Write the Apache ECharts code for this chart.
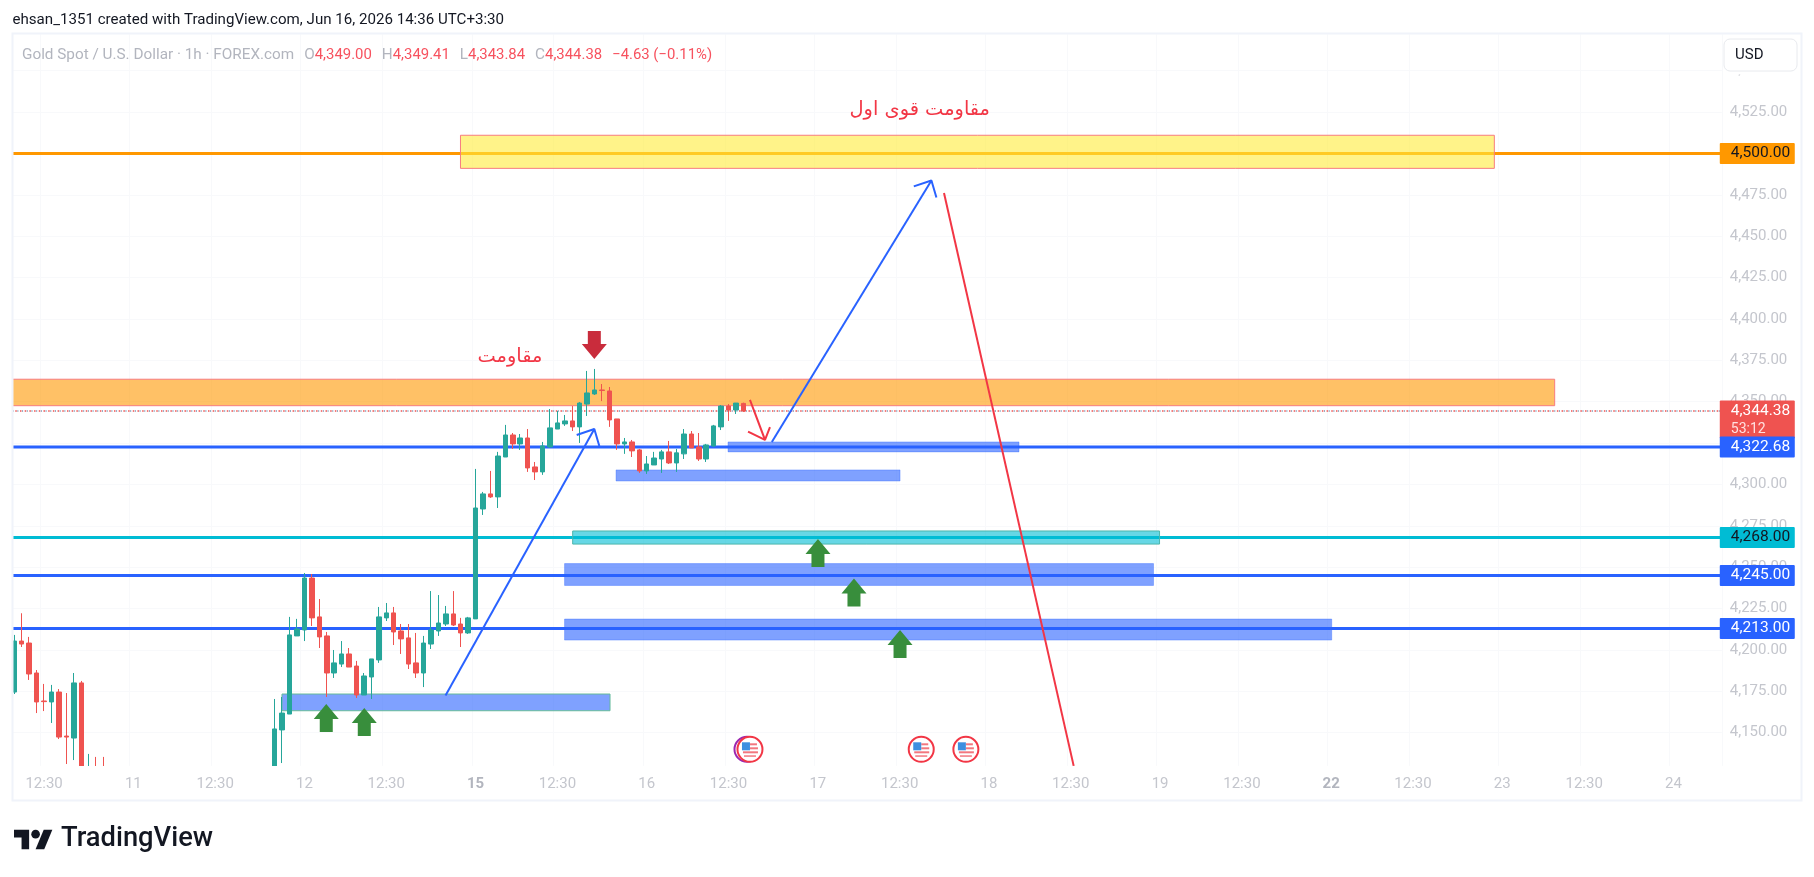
<!DOCTYPE html>
<html>
<head>
<meta charset="utf-8">
<style>html,body{margin:0;padding:0;background:#fff}#c{width:1814px;height:877px}</style>
<script src="https://cdn.jsdelivr.net/npm/echarts@6/dist/echarts.min.js"></script>
</head>
<body>
<div id="c"></div>
<script>
// Bars: [open, close, low, high]
const barsBeforeGap = [
[4174.6,4205.4,4173.4,4209.1],[4205.4,4203.6,4201.8,4222.2],[4204.2,4185.5,4181.9,4207.9],[4186.1,4168.6,4161.9,4187.9],
[4169.2,4168.8,4163.1,4179.5],[4168.6,4174.6,4155.9,4178.9],[4174.6,4147.4,4146.2,4176.4],[4148.0,4147.4,4131.1,4174.0],
[4146.8,4180.1,4133.5,4186.1],[4180.1,4126,4126,4181.3],[4126,4128,4126,4137.2],[4128,4126,4126,4135.4],[4128,4126,4126,4135.4]
];
const hiddenBarCount = 22;
const barsAfterGap = [
[4126,4152.3,4126,4170.4],[4151.7,4161.9,4131.7,4171.6],[4161.3,4209.1,4161.3,4220.0],[4208.5,4212.7,4208.5,4218.8],
[4212.1,4243.5,4205.4,4246.5],[4243.5,4219.4,4214.5,4245.9],[4220.0,4207.9,4201.2,4230.8],[4208.5,4186.1,4171.6,4210.9],
[4186.1,4192.2,4183.1,4200.0],[4191.5,4197.6,4189.7,4205.4],[4197.6,4189.7,4189.7,4201.2],[4190.3,4172.8,4171.0,4193.4],
[4172.8,4184.3,4172.8,4186.1],[4183.7,4194.6,4170.4,4194.6],[4194.0,4220.0,4192.2,4226.0],[4219.4,4222.4,4217.5,4228.4],
[4222.4,4210.9,4203.0,4226.0],[4211.5,4206.7,4197.6,4215.7],[4207.3,4191.5,4188.5,4215.7],[4192.2,4186.1,4183.1,4210.3],
[4186.1,4204.2,4177.6,4208.5],[4203.6,4212.1,4200.6,4235.6],[4211.5,4216.3,4208.5,4233.2],[4215.7,4221.8,4214.5,4226.6],
[4221.8,4215.1,4214.5,4235.6],[4215.7,4210.3,4201.8,4219.4],[4210.3,4219.4,4209.7,4220.0],[4218.8,4285.8,4218.8,4309.4],
[4285.2,4294.3,4281.6,4295.5],[4294.3,4292.5,4291.9,4308.2],[4292.5,4317.2,4285.8,4319.7],[4316.6,4329.9,4316.6,4336.0],
[4329.9,4324.5,4321.5,4331.1],[4324.5,4328.1,4320.9,4330.5],[4328.1,4310.0,4307.6,4333.5],[4310.6,4307.6,4302.7,4313.6],
[4307.6,4323.3,4305.8,4325.7],[4322.7,4334.2,4322.1,4345.6],[4333.5,4337.2,4333.5,4344.4],[4336.6,4338.4,4335.4,4342.0],
[4338.4,4334.8,4332.3,4347.4],[4334.8,4349.2,4325.1,4349.8],[4348.6,4355.3,4341.4,4368.6],[4354.7,4357.1,4354.1,4369.8],
[4357.1,4356.8,4350.4,4360.7],[4356.5,4339.0,4334.8,4358.9],[4339.6,4324.5,4320.9,4339.6],[4324.5,4325.7,4318.5,4328.1],
[4325.7,4320.3,4316.6,4326.9],[4320.9,4308.2,4307.0,4321.5],[4308.2,4312.4,4306.4,4317.2],[4311.8,4316.0,4311.8,4319.7],
[4315.4,4319.7,4307.0,4320.9],[4319.7,4313.0,4312.4,4326.3],[4313.0,4319.1,4307.6,4321.5],[4318.5,4330.5,4315.4,4333.5],
[4330.5,4322.1,4322.1,4332.3],[4322.7,4315.4,4314.2,4331.1],[4315.4,4323.9,4313.6,4324.5],[4323.3,4335.4,4322.7,4336.0],
[4334.8,4347.4,4332.9,4348.0],[4347.4,4345.0,4338.4,4348.6],[4345.0,4349.2,4342.6,4349.2],[4349.00,4344.38,4343.84,4349.41]
];
const barSlots = 230;
const timeTickBars = [4,16,27,39,50,62,73,85,96,108,119,131,142,154,165,177,188,200,211,223];
const timeTickLabels = ['12:30','11','12:30','12','12:30','15','12:30','16','12:30','17','12:30','18','12:30','19','12:30','22','12:30','23','12:30','24'];
const boldTimeLabels = ['15','22'];
const priceTicks = [4150,4175,4200,4225,4250,4275,4300,4325,4350,4375,4400,4425,4450,4475,4500,4525,4550];
const levelOrange = 4500, levelBlueTop = 4322.68, levelCyan = 4268, levelBlueMid = 4245, levelBlueLow = 4213;
const lastPrice = 4344.38;
// Drawn zones: [from bar, to bar, upper price, lower price]
const zoneYellow = [60.47,199.43,4511.0,4491.0];
const zoneOrange = [0,207.54,4363.6,4347.6];
const zonesBlue = [[96.43,135.54,4325.7,4319.7],[81.38,119.55,4308.8,4302.1],[74.46,153.62,4252.2,4239.0],[74.46,177.57,4218.7,4206.0]];
const zoneCyan = [75.55,154.43,4271.9,4264.0];
const zoneBase = [36.48,80.57,4173.4,4163.3];
// Drawn trend lines: [bar, price] points
const trendBlueOne = [[58.46,4172.5],[78.46,4333.5]];
const headBlueOne = [[76.09,4329.9],[78.46,4333.5],[79.13,4323.3]];
const trendBlueTwo = [[102.32,4325.7],[123.77,4483.7]];
const headBlueTwo = [[121.4,4480.1],[123.77,4483.7],[124.44,4473.4]];
const trendRedLong = [[125.46,4476.1],[142.89,4130]];
const trendRedShort = [[99.38,4351.1],[101.4,4326.9]];
const headRedShort = [[99.12,4331.9],[101.4,4326.9],[102.07,4334.7]];
const arrowsUp = [[42.43,4167.4],[47.54,4165.0],[108.52,4267.1],[113.36,4243.2],[119.55,4212.1]];
const arrowsDown = [[78.46,4375.8]];
const notes = [[122.2,4526.3,'مقاومت قوی اول'],[67.12,4377.0,'مقاومت']];
const eventMarks = [[98.98,4140,1],[99.38,4140,0],[122.4,4140,0],[128.4,4140,0]];
const priceTags = [[levelOrange,'4,500.00','53:12'],[lastPrice,'4,344.38','53:12'],[levelBlueTop,'4,322.68',''],[levelCyan,'4,268.00',''],[levelBlueMid,'4,245.00',''],[levelBlueLow,'4,213.00','']];
const tagStyles = [{fill:'#ff9800',text:'#131722'},{fill:'#ef5350',text:'#fff'},{fill:'#2962ff',text:'#fff'},{fill:'#00bcd4',text:'#131722'},{fill:'#2962ff',text:'#fff'},{fill:'#2962ff',text:'#fff'}];

const FONT = 'Roboto, sans-serif';
const bars = barsBeforeGap.concat(new Array(hiddenBarCount).fill('-'), barsAfterGap);
const labelByBar = {};
timeTickBars.forEach((b,i)=>labelByBar[b]=timeTickLabels[i]);
const categories = Array.from({length:barSlots},(_,i)=>labelByBar[i]||'');

function lineSeries(points,color,width,z,extra){
  return {type:'line',xAxisIndex:1,yAxisIndex:0,data:points,symbol:'none',silent:true,z:z,
    lineStyle:Object.assign({color:color,width:width},extra||{}),emphasis:{disabled:true},animation:false};
}
function level(p,color){return lineSeries([[0,p],[barSlots,p]],color,3,1);}

function zoneSeries(rows,fill,stroke,z){
  return {type:'custom',xAxisIndex:1,yAxisIndex:0,silent:true,z:z,clip:true,data:rows,
    renderItem:(params,api)=>{
      const a=api.coord([api.value(0),api.value(2)]),b=api.coord([api.value(1),api.value(3)]);
      return {type:'rect',shape:{x:a[0],y:a[1],width:b[0]-a[0],height:b[1]-a[1]},style:{fill:fill,stroke:stroke,lineWidth:1}};
    }};
}
function arrowSeries(rows,color,dir){
  return {type:'custom',xAxisIndex:1,yAxisIndex:0,silent:true,z:8,data:rows,
    renderItem:(params,api)=>{
      const c=api.coord([api.value(0),api.value(1)]),x=c[0],y=c[1],d=dir;
      return {type:'polygon',shape:{points:[[x,y],[x+12.5,y+d*15],[x+6.5,y+d*15],[x+6.5,y+d*28],[x-6.5,y+d*28],[x-6.5,y+d*15],[x-12.5,y+d*15]]},style:{fill:color}};
    }};
}

const option={
  animation:false,
  backgroundColor:'#fff',
  title:[
    {left:12.5,top:13,padding:0,text:'ehsan_1351 created with TradingView.com, Jun 16, 2026 14:36 UTC+3:30',textStyle:{fontFamily:FONT,fontSize:15.1,fontWeight:'normal',color:'#131722'}},
    {left:22,top:46,padding:0,text:'{g|Gold Spot / U.S. Dollar · 1h · FOREX.com}  {g|O}{r|4,349.00}  {g|H}{r|4,349.41}  {g|L}{r|4,343.84}  {g|C}{r|4,344.38}  {r|−4.63 (−0.11%)}',
     textStyle:{fontWeight:'normal',rich:{g:{fontFamily:FONT,fontSize:15.3,fontWeight:'normal',color:'#b2b5be'},r:{fontFamily:FONT,fontSize:14.9,fontWeight:'normal',color:'#f7525f'}}}}
  ],
  grid:{left:10.58,top:34.3,width:1711.2,height:731.55,containLabel:false},
  xAxis:[
    {type:'category',data:categories,boundaryGap:true,axisLine:{show:false},axisTick:{show:false},
     splitLine:{show:true,interval:(i)=>!!labelByBar[i],lineStyle:{color:'#f8f9fb',width:1}},
     axisLabel:{interval:(i)=>!!labelByBar[i],margin:11,hideOverlap:false,fontFamily:FONT,fontSize:15,color:'#c4c6cd',
       formatter:(v)=>boldTimeLabels.includes(v)?'{b|'+v+'}':v,
       rich:{b:{fontFamily:FONT,fontSize:15,fontWeight:'bold',color:'#b2b5be'}}}},
    {type:'value',min:0,max:barSlots,show:false,splitLine:{show:false}}
  ],
  yAxis:[{type:'value',position:'right',min:4130,max:4572,axisLine:{show:false},
    axisTick:{show:false,customValues:priceTicks},
    splitLine:{show:true,lineStyle:{color:'#f8f9fb',width:1}},
    axisLabel:{customValues:priceTicks,margin:8,padding:[0,0,3,0],fontFamily:FONT,fontSize:15,color:'#c4c6cd',
      formatter:(v)=>v.toLocaleString('en-US',{minimumFractionDigits:2,maximumFractionDigits:2})}}],
  graphic:{elements:[
    {type:'rect',z:100,silent:true,shape:{x:0,y:28,width:13,height:775},style:{fill:'#fff'}},
    {type:'rect',z:100,silent:true,shape:{x:13,y:766,width:1707,height:9},style:{fill:'#fff'}},
    {type:'rect',z:101,silent:true,shape:{x:12.5,y:33.5,width:1789,height:767},style:{fill:'none',stroke:'#f0f3fa',lineWidth:2}},
    {type:'rect',z:101,silent:true,shape:{x:1724,y:71,width:73,height:3.5},style:{fill:'#fff'}},
    {type:'rect',z:102,silent:true,shape:{x:1724,y:39,width:73,height:32,r:6},style:{fill:'#fff',stroke:'#e8eaee',lineWidth:1}},
    {type:'text',z:103,silent:true,style:{x:1735,y:55,text:'USD',fill:'#131722',font:'15px '+FONT,textVerticalAlign:'middle'}},
    {type:'group',z:103,silent:true,x:14,y:825.5,scaleX:1.08,scaleY:1.08,children:[
      {type:'polygon',shape:{points:[[0,4],[14,4],[14,22],[7,22],[7,11],[0,11]]},style:{fill:'#131722'}},
      {type:'polygon',shape:{points:[[20,22],[27.5,4],[35.5,4],[28,22]]},style:{fill:'#131722'}},
      {type:'circle',shape:{cx:20,cy:8,r:4},style:{fill:'#131722'}}
    ]},
    {type:'text',z:103,silent:true,style:{x:61,y:839,text:'TradingView',fill:'#131722',font:'500 27.3px '+FONT,textVerticalAlign:'middle'}}
  ]},
  series:[
    level(levelOrange,'#ff9800'),level(levelBlueTop,'#2962ff'),level(levelCyan,'#00bcd4'),level(levelBlueMid,'#2962ff'),level(levelBlueLow,'#2962ff'),
    lineSeries([[0,lastPrice],[barSlots,lastPrice]],'#ef5350',1.6,1,{type:[1.5,3.2]}),
    lineSeries([[0,lastPrice],[barSlots,lastPrice]],'#6f8fb0',1.6,1,{type:[1,3.7],dashOffset:2.6}),
    zoneSeries([zoneYellow],'rgba(255,235,59,0.6)','#f77c80',2),
    zoneSeries([zoneOrange],'rgba(255,152,0,0.6)','#f77c80',2),
    zoneSeries(zonesBlue,'rgba(41,98,255,0.6)','rgba(41,98,255,0.35)',2),
    zoneSeries([zoneCyan],'rgba(0,188,212,0.6)','#4db6ac',2),
    zoneSeries([zoneBase],'rgba(41,98,255,0.6)','#66bb9a',2),
    {type:'candlestick',xAxisIndex:0,yAxisIndex:0,data:bars,barWidth:5,silent:true,z:4,clip:true,
     itemStyle:{color:'#26a69a',borderColor:'#26a69a',color0:'#ef5350',borderColor0:'#ef5350',borderWidth:1}},
    lineSeries(trendBlueOne,'#2962ff',2,6),lineSeries(headBlueOne,'#2962ff',2,6),
    lineSeries(trendBlueTwo,'#2962ff',2,6),lineSeries(headBlueTwo,'#2962ff',2,6),
    lineSeries(trendRedLong,'#f23645',2,6),lineSeries(trendRedShort,'#f23645',2,6),lineSeries(headRedShort,'#f23645',2,6),
    arrowSeries(arrowsUp,'#388e3c',1),
    arrowSeries(arrowsDown,'#c92c3c',-1),
    {type:'custom',xAxisIndex:1,yAxisIndex:0,silent:true,z:9,data:notes.map(n=>[n[0],n[1]]),
     renderItem:(params,api)=>{
       const c=api.coord([api.value(0),api.value(1)]);
       return {type:'text',style:{x:c[0],y:c[1],text:notes[params.dataIndex][2],fill:'#f23645',font:'19.4px "DejaVu Sans"',textAlign:'center',textVerticalAlign:'middle'}};
     }},
    {type:'custom',xAxisIndex:1,yAxisIndex:0,silent:true,z:9,data:eventMarks,
     renderItem:(params,api)=>{
       const c=api.coord([api.value(0),api.value(1)]),x=c[0],y=c[1],older=api.value(2);
       const ring={type:'circle',shape:{cx:x,cy:y,r:12.5},style:{fill:'#fff',stroke:older?'#9c27b0':'#f23645',lineWidth:2}};
       if(older) return ring;
       return {type:'group',children:[ring,
         {type:'rect',shape:{x:x+0,y:y-6,width:7,height:2},style:{fill:'#f2777f'}},
         {type:'rect',shape:{x:x+0,y:y-2,width:8,height:2},style:{fill:'#f2777f'}},
         {type:'rect',shape:{x:x-7,y:y+2,width:15,height:2},style:{fill:'#f2777f'}},
         {type:'rect',shape:{x:x-6,y:y+6,width:12,height:1.5},style:{fill:'#f2777f'}},
         {type:'rect',shape:{x:x-8,y:y-7,width:8,height:8},style:{fill:'#3d8fe0'}}
       ]};
     }},
    {type:'custom',xAxisIndex:1,yAxisIndex:0,silent:true,z:20,clip:false,data:priceTags.map(t=>[barSlots,t[0]]),
     renderItem:(params,api)=>{
       const c=api.coord([api.value(0),api.value(1)]),i=params.dataIndex,t=priceTags[i],s=tagStyles[i];
       const x=c[0]-2,y=c[1],two=(i===1);
       const kids=[{type:'rect',z2:two?1:5,shape:{x:x,y:y-10.5,width:75,height:two?38:21,r:1},style:{fill:s.fill}},
         {type:'text',z2:two?2:6,style:{x:x+11,y:y,text:t[1],fill:s.text,font:'15.5px '+FONT,textVerticalAlign:'middle'}}];
       if(two) kids.push({type:'text',z2:2,style:{x:x+11,y:y+18,text:t[2],fill:'#ffe0df',font:'14px '+FONT,textVerticalAlign:'middle'}});
       return {type:'group',children:kids};
     }}
  ]
};
const chart=echarts.init(document.getElementById('c'),null,{renderer:'canvas',width:1814,height:877});
chart.setOption(option);
</script>
</body>
</html>
